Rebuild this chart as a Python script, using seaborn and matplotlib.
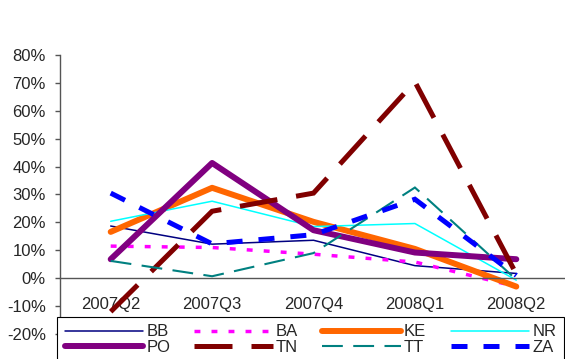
import matplotlib
matplotlib.use("Agg")
import matplotlib.pyplot as plt
import matplotlib.ticker as mticker
import seaborn as sns
import pandas as pd

quarters = ["2007Q2", "2007Q3", "2007Q4", "2008Q1", "2008Q2"]
BB = [18.7, 12.2, 13.6, 4.5, 1.7]
BA = [11.5, 11.0, 8.6, 5.8, -3.0]
KE = [16.6, 32.4, 20.2, 10.5, -3.0]
NR = [20.4, 27.6, 18.5, 19.6, -0.7]
PO = [6.8, 41.3, 17.2, 9.2, 6.8]
TN = [-12.0, 24.0, 30.5, 70.4, 1.5]
TT = [6.2, 0.7, 9.0, 32.5, -0.5]
ZA = [30.5, 12.3, 15.6, 28.3, 1.0]
y_ticks = [-20, -10, 0, 10, 20, 30, 40, 50, 60, 70, 80]

series = {"BB": BB, "BA": BA, "KE": KE, "NR": NR, "PO": PO, "TN": TN, "TT": TT, "ZA": ZA}

styles = {
    "BB": dict(color="#000080", linewidth=1.1, linestyle="-"),
    "BA": dict(color="#FF00FF", linewidth=2.5, linestyle=(0, (1.7, 3.2))),
    "KE": dict(color="#FF6600", linewidth=4.3, linestyle="-"),
    "NR": dict(color="#00FFFF", linewidth=1.1, linestyle="-"),
    "PO": dict(color="#800080", linewidth=4.3, linestyle="-"),
    "TN": dict(color="#800000", linewidth=3.6, linestyle=(0, (7.6, 3.8))),
    "TT": dict(color="#008080", linewidth=1.5, linestyle=(0, (10, 5))),
    "ZA": dict(color="#0000FF", linewidth=3.6, linestyle=(0, (3.2, 3.2))),
}

sns.set_style("white")
plt.rcParams["font.family"] = ["Liberation Sans", "DejaVu Sans"]

fig = plt.figure(figsize=(5.65, 3.59), dpi=100)
ax = fig.add_axes([60 / 565, 25 / 359, 507 / 565, 279 / 359])

handles = {}
for name, vals in series.items():
    df = pd.DataFrame({"q": quarters, "v": vals})
    sns.lineplot(data=df, x="q", y="v", ax=ax, sort=False, label=name,
                 solid_capstyle="round", dash_capstyle="butt",
                 solid_joinstyle="round", dash_joinstyle="miter", legend=False,
                 **styles[name])
    handles[name] = ax.get_lines()[-1]

ax.set_xlim(-0.5, 4.5)
ax.set_ylim(-20, 80)
ax.set_yticks(y_ticks)
ax.yaxis.set_major_formatter(mticker.FuncFormatter(lambda v, p: f"{v:.0f}%"))
ax.set_xlabel("")
ax.set_ylabel("")

for s in ["top", "right"]:
    ax.spines[s].set_visible(False)
ax.spines["bottom"].set_position(("data", 0))
for s in ["left", "bottom"]:
    ax.spines[s].set_color("#555555")
    ax.spines[s].set_linewidth(1.0)

ax.set_xticks(range(len(quarters)))
ax.set_xticklabels(quarters)
ax.set_xticks([0.5, 1.5, 2.5, 3.5], minor=True)
ax.tick_params(axis="x", which="major", length=0, pad=13.5, labelsize=12)
ax.tick_params(axis="x", which="minor", length=4.3, width=1, color="#555555", direction="out")
ax.tick_params(axis="y", which="major", length=3.6, width=1, color="#555555",
               direction="out", pad=6.5, labelsize=12, left=True)
ax.grid(False)

order = ["BB", "PO", "BA", "TN", "KE", "TT", "NR", "ZA"]
leg = fig.legend([handles[n] for n in order], order, loc="upper left",
                 bbox_to_anchor=(57 / 565, 1 - 317 / 359), ncol=4,
                 borderaxespad=0, frameon=True, fancybox=False,
                 edgecolor="black", framealpha=1, fontsize=12,
                 handlelength=4.7, handletextpad=0.2, columnspacing=1.45,
                 borderpad=0.45, labelspacing=0.0)
leg.get_frame().set_linewidth(0.8)

fig.savefig("out.png", dpi=100)
